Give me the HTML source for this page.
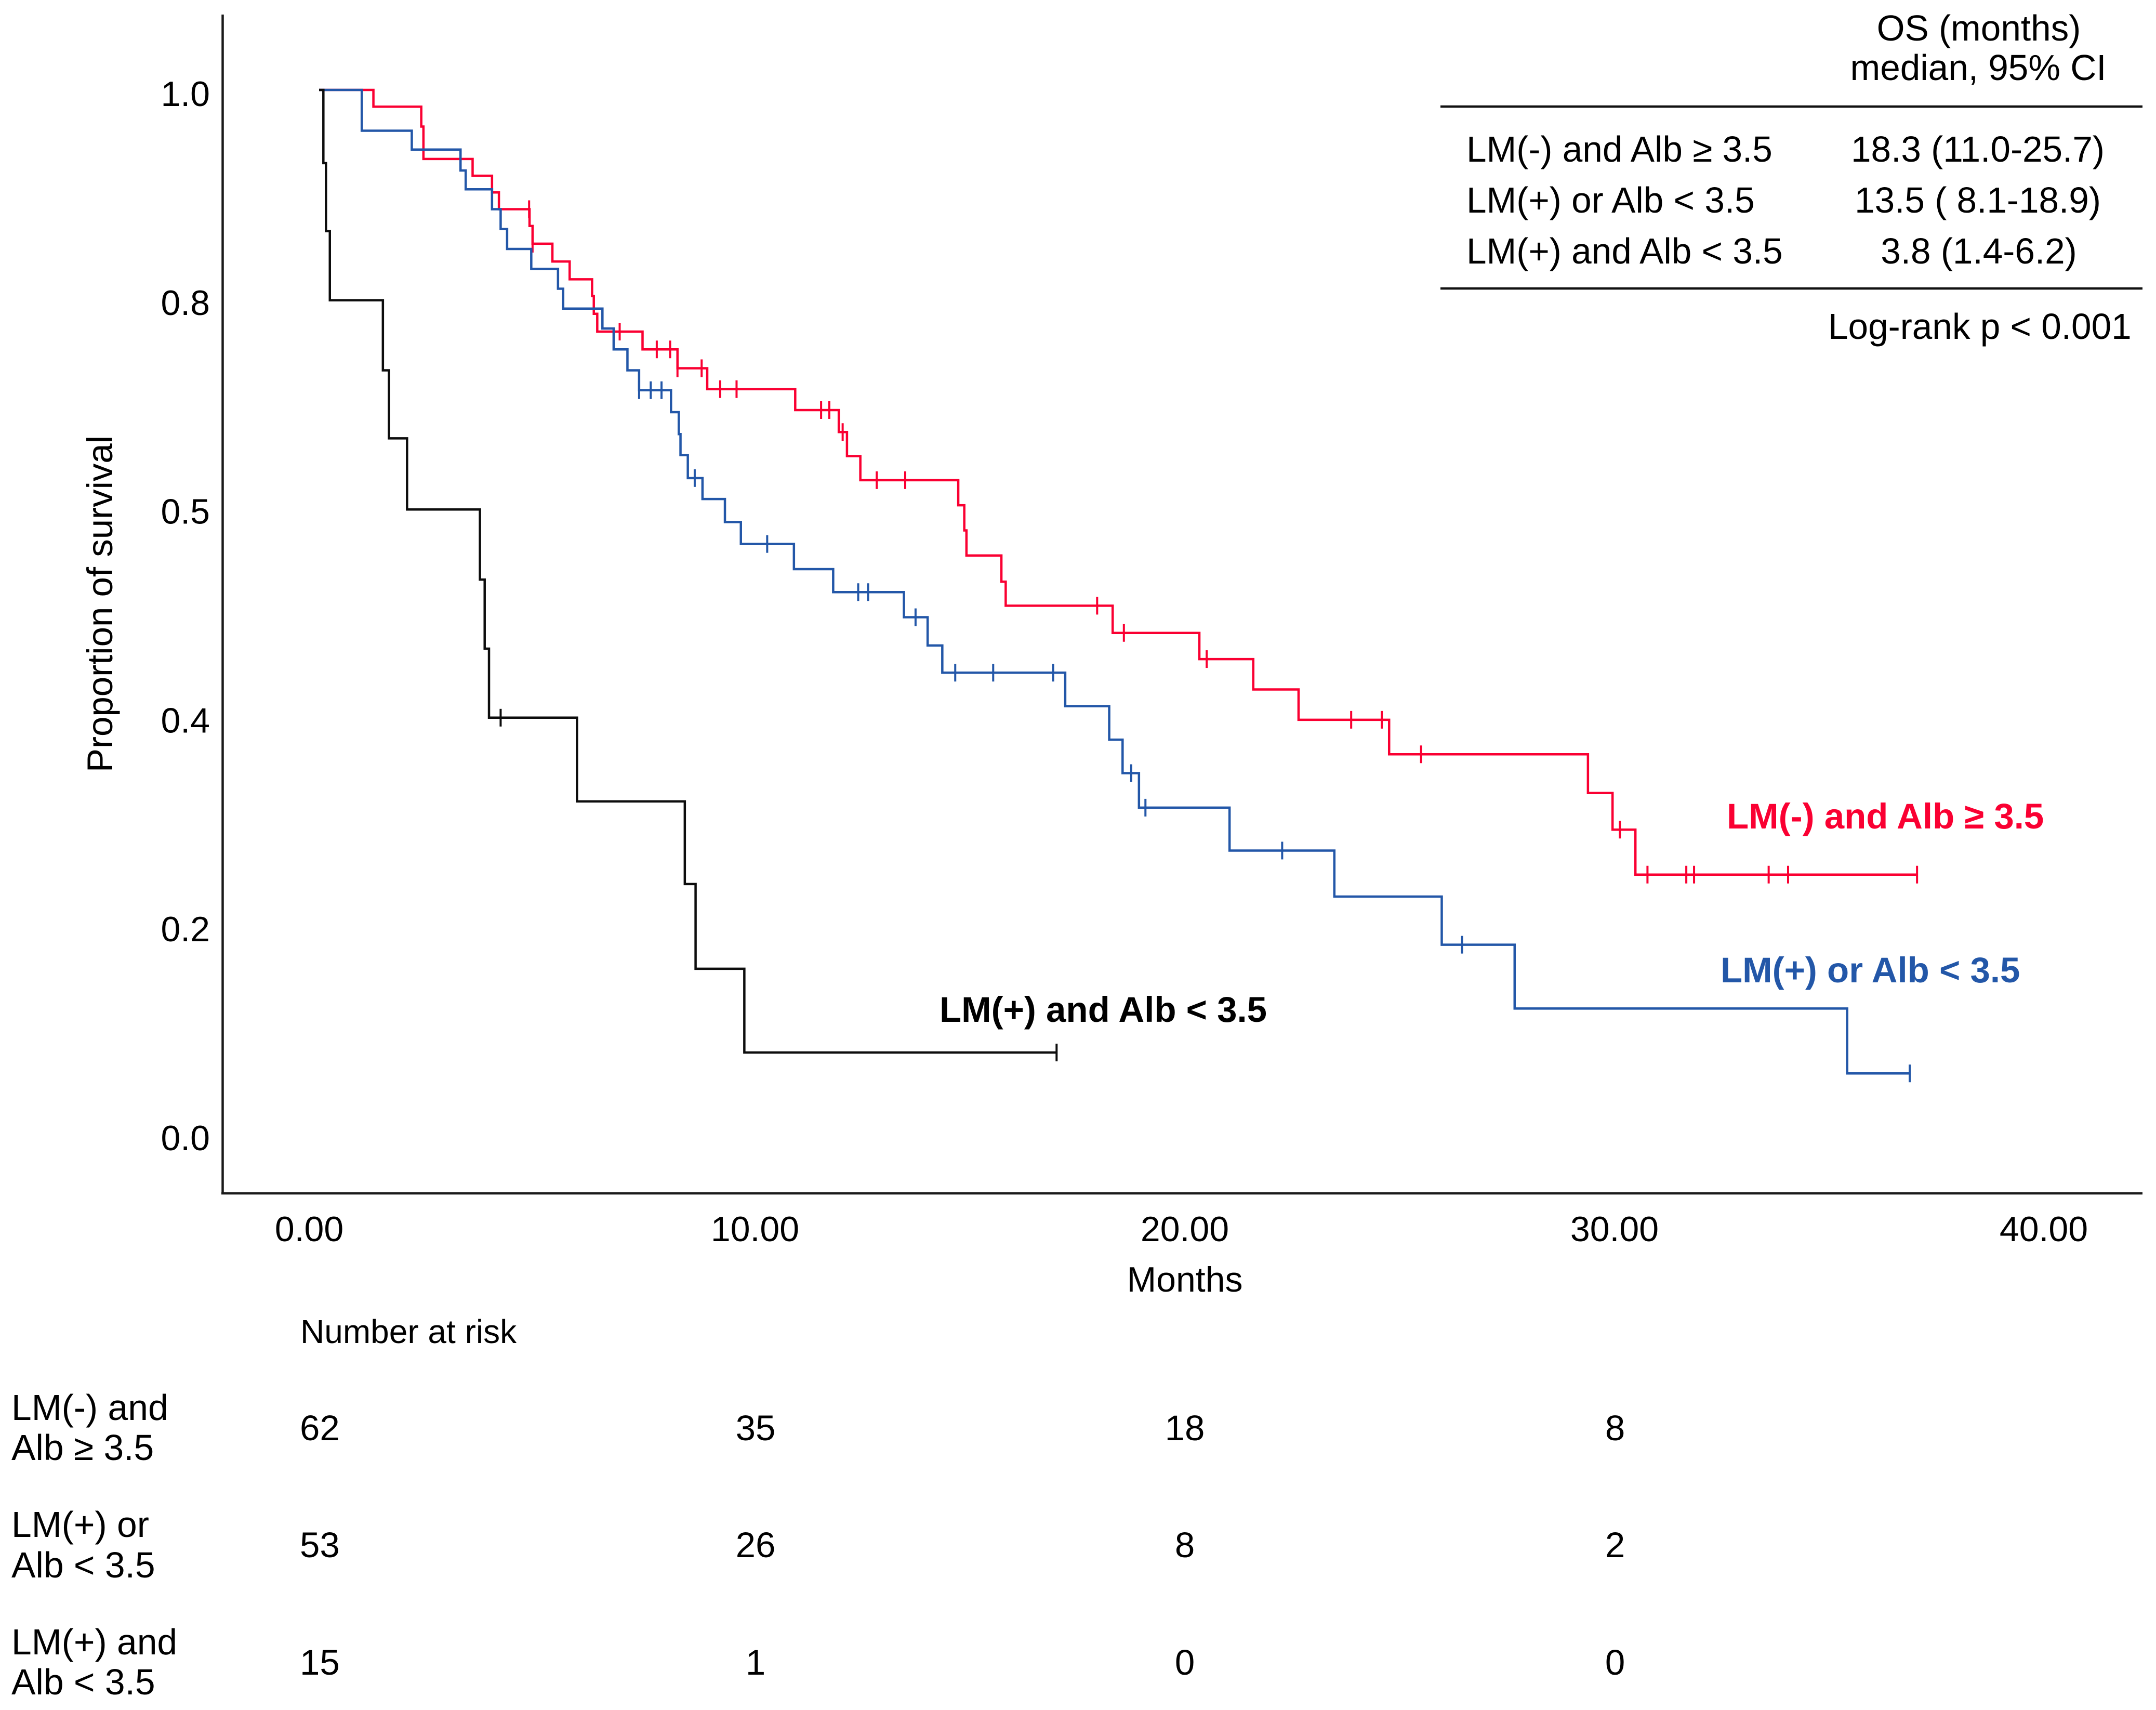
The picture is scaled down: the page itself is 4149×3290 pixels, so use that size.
<!DOCTYPE html>
<html lang="en">
<head>
<meta charset="utf-8">
<title>Overall survival by LM and albumin status</title>
<style>
html,body{margin:0;padding:0;background:#fff;}
svg{display:block;}
text{font-family:"Liberation Sans",Arial,sans-serif;fill:#000;font-size:68px;}
.tbl{font-size:69.3px;}
.lbl{font-size:69px;font-weight:bold;}
.rowlab{font-size:69.6px;}
</style>
</head>
<body>
<svg id="chart" xmlns="http://www.w3.org/2000/svg" width="4149" height="3290" viewBox="0 0 4149 3290">
  <rect x="0" y="0" width="4149" height="3290" fill="#fff"/>

  <line x1="428.5" y1="28" x2="428.5" y2="2298" stroke="#1a1a1a" stroke-width="4.5"/>
  <line x1="426" y1="2296" x2="4123" y2="2296" stroke="#1a1a1a" stroke-width="4.5"/>
  <g id="x-ticks"></g>
  <g id="y-ticks"></g>
  <g id="series"></g>

  <text transform="translate(216,1486) rotate(-90)" style="font-size:69px">Proportion of survival</text>
  <text x="2280" y="2485" text-anchor="middle">Months</text>

  <text class="lbl" x="3323" y="1594" style="fill:#fa0032">LM(-) and Alb ≥ 3.5</text>
  <text class="lbl" x="3311" y="1890" style="fill:#2357a8">LM(+) or Alb &lt; 3.5</text>
  <text class="lbl" x="1808" y="1966">LM(+) and Alb &lt; 3.5</text>

  <g>
    <text class="tbl" x="3808" y="78" text-anchor="middle">OS (months)</text>
    <text class="tbl" x="3807" y="154" text-anchor="middle">median, 95% CI</text>
    <line x1="2772" y1="205" x2="4123" y2="205" stroke="#111" stroke-width="4.5"/>
    <text class="tbl" x="2822" y="311">LM(-) and Alb ≥ 3.5</text>
    <text class="tbl" x="3806" y="311" text-anchor="middle">18.3 (11.0-25.7)</text>
    <text class="tbl" x="2822" y="409">LM(+) or Alb &lt; 3.5</text>
    <text class="tbl" x="3806" y="409" text-anchor="middle">13.5 ( 8.1-18.9)</text>
    <text class="tbl" x="2822" y="507">LM(+) and Alb &lt; 3.5</text>
    <text class="tbl" x="3808" y="507" text-anchor="middle">3.8 (1.4-6.2)</text>
    <line x1="2772" y1="555" x2="4123" y2="555" stroke="#111" stroke-width="4.5"/>
    <text class="tbl" x="3518" y="652">Log-rank p &lt; 0.001</text>
  </g>

  <g>
    <text x="578" y="2584" style="font-size:64px">Number at risk</text>

    <text class="rowlab" x="22" y="2732">LM(-) and</text>
    <text class="rowlab" x="22" y="2809">Alb ≥ 3.5</text>
    <text x="577" y="2771" style="font-size:69px">62</text>
    <text x="1454" y="2771" text-anchor="middle" style="font-size:69px">35</text>
    <text x="2280" y="2771" text-anchor="middle" style="font-size:69px">18</text>
    <text x="3108" y="2771" text-anchor="middle" style="font-size:69px">8</text>

    <text class="rowlab" x="22" y="2957">LM(+) or</text>
    <text class="rowlab" x="22" y="3035">Alb &lt; 3.5</text>
    <text x="577" y="2996" style="font-size:69px">53</text>
    <text x="1454" y="2996" text-anchor="middle" style="font-size:69px">26</text>
    <text x="2280" y="2996" text-anchor="middle" style="font-size:69px">8</text>
    <text x="3108" y="2996" text-anchor="middle" style="font-size:69px">2</text>

    <text class="rowlab" x="22" y="3183">LM(+) and</text>
    <text class="rowlab" x="22" y="3260">Alb &lt; 3.5</text>
    <text x="577" y="3222" style="font-size:69px">15</text>
    <text x="1454" y="3222" text-anchor="middle" style="font-size:69px">1</text>
    <text x="2280" y="3222" text-anchor="middle" style="font-size:69px">0</text>
    <text x="3108" y="3222" text-anchor="middle" style="font-size:69px">0</text>
  </g>
</svg>

<script>
// Axis ticks
const xTickValues = [0, 10, 20, 30, 40];
const xTickLabels = ["0.00", "10.00", "20.00", "30.00", "40.00"];
const yTickValues = [0, 0.2, 0.4, 0.6, 0.8, 1.0];
const yTickLabels = ["0.0", "0.2", "0.4", "0.5", "0.8", "1.0"]; // printed as in the source figure

// LM(-) and Alb >= 3.5
const redTimes = [0, 1.26, 2.37, 2.42, 3.56, 4.01, 4.17, 4.88, 4.95, 5.41, 5.81, 6.33, 6.37, 6.45, 7.50, 8.31, 9.00, 11.04, 12.05, 12.24, 12.55, 14.82, 14.96, 15.01, 15.82, 15.92, 18.40, 20.41, 21.66, 22.71, 24.81, 29.42, 29.99, 30.52];
const redSurvival = [1, .984, .965, .934, .918, .902, .886, .870, .853, .836, .819, .803, .786, .769, .752, .734, .714, .694, .673, .650, .627, .603, .579, .555, .530, .507, .481, .456, .427, .398, .365, .328, .293, .250];
const redCensored = [4.87, 4.95, 6.97, 7.83, 8.14, 8.31, 8.87, 9.30, 9.68, 11.64, 11.83, 12.14, 12.93, 13.59, 18.04, 18.66, 20.58, 23.93, 24.64, 25.55, 30.16, 30.80, 31.70, 31.88, 33.61, 34.06, 37.05];

// LM(+) or Alb < 3.5
const blueTimes = [0, .99, 2.15, 3.28, 3.40, 4.01, 4.21, 4.36, 4.92, 5.54, 5.66, 6.57, 6.83, 7.15, 7.42, 8.16, 8.34, 8.38, 8.55, 8.89, 9.41, 9.78, 11.01, 11.92, 13.56, 14.11, 14.45, 17.30, 18.32, 18.63, 19.01, 21.11, 23.54, 26.03, 27.72, 35.43];
const blueSurvival = [1, .961, .943, .923, .905, .886, .867, .848, .829, .810, .791, .772, .752, .732, .713, .692, .671, .651, .629, .609, .587, .566, .542, .520, .496, .469, .443, .411, .379, .347, .314, .273, .229, .183, .122, .060];
const blueCensored = [7.42, 7.69, 7.94, 8.71, 10.39, 12.50, 12.73, 13.83, 14.75, 15.63, 17.02, 18.83, 19.16, 22.33, 26.50, 36.88];

// LM(+) and Alb < 3.5
const blackTimes = [0, .10, .16, .25, 1.48, 1.62, 2.04, 3.73, 3.84, 3.94, 5.98, 8.48, 8.73, 9.86];
const blackSurvival = [1, .930, .865, .799, .732, .667, .599, .532, .466, .400, .320, .241, .160, .080];
const blackCensored = [4.21, 17.10];

const SVG_NS = "http://www.w3.org/2000/svg";
function x(t) { return 614 + 83 * t; }
function y(s) { return 2186 - 2013 * s; }

function levelAt(times, surv, t) {
  let level = surv[0];
  for (let i = 0; i < times.length; i++) {
    if (times[i] <= t) level = surv[i];
  }
  return level;
}

function stepPath(times, surv, censored) {
  let d = "M" + x(times[0]) + " " + y(surv[0]);
  for (let i = 1; i < times.length; i++) {
    d += "H" + x(times[i]) + "V" + y(surv[i]);
  }
  d += "H" + x(Math.max.apply(null, censored));
  return d;
}

const xGroup = document.getElementById("x-ticks");
const xLabelNudge = [-19, 9, 6, 3, -1];
xTickValues.forEach(function (v, i) {
  const el = document.createElementNS(SVG_NS, "text");
  el.setAttribute("x", x(v) + xLabelNudge[i]);
  el.setAttribute("y", 2388);
  el.setAttribute("text-anchor", "middle");
  
  
  el.textContent = xTickLabels[i];
  xGroup.appendChild(el);
});

const yGroup = document.getElementById("y-ticks");
yTickValues.forEach(function (v, i) {
  const el = document.createElementNS(SVG_NS, "text");
  el.setAttribute("x", 404);
  el.setAttribute("y", y(v) + 27 + 4 * v);
  el.setAttribute("text-anchor", "end");
  
  
  el.textContent = yTickLabels[i];
  yGroup.appendChild(el);
});

const seriesGroup = document.getElementById("series");

function drawCurve(times, surv, censored, color, width) {
  const g = document.createElementNS(SVG_NS, "g");
  
  

  const path = document.createElementNS(SVG_NS, "path");
  path.setAttribute("d", stepPath(times, surv, censored));
  path.setAttribute("fill", "none");
  path.setAttribute("stroke", color);
  path.setAttribute("stroke-width", width);
  
  
  g.appendChild(path);

  censored.forEach(function (t) {
    const level = levelAt(times, surv, t);
    const tick = document.createElementNS(SVG_NS, "line");
    tick.setAttribute("x1", x(t));
    tick.setAttribute("x2", x(t));
    tick.setAttribute("y1", y(level) - 17);
    tick.setAttribute("y2", y(level) + 17);
    tick.setAttribute("stroke", color);
    tick.setAttribute("stroke-width", 4);
    
    
    g.appendChild(tick);
  });
  seriesGroup.appendChild(g);
}

drawCurve(redTimes, redSurvival, redCensored, "#fa0032", 4.5);
drawCurve(blueTimes, blueSurvival, blueCensored, "#2357a8", 4.5);
drawCurve(blackTimes, blackSurvival, blackCensored, "#0d0d0d", 4.5);
</script>
</body>
</html>
